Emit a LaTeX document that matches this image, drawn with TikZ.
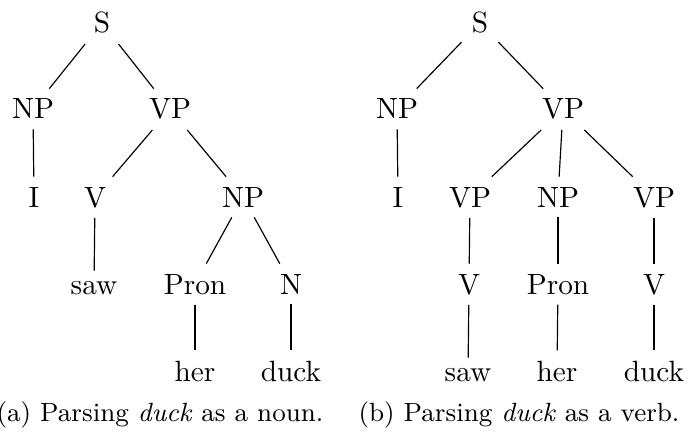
\documentclass[tikz,border=0pt]{standalone}
\usepackage{tikz}
\usetikzlibrary{positioning}

\begin{document}
\begin{tikzpicture}[x=0.012cm,y=-0.012cm,
  lbl/.style={anchor=base},
  subcaption/.style={anchor=base,font=\small}]
\useasboundingbox (0,0) rectangle (689,436);
\node[lbl] (aS) at (102,33) {S};
\node[lbl] (aNP) at (33,119) {NP};
\node[lbl] (aVP) at (170,119) {VP};
\node[lbl] (aI) at (34,207) {I};
\node[lbl] (aV) at (95,207) {V};
\node[lbl] (aNPb) at (243,207) {NP};
\node[lbl] (asaw) at (94,294) {saw};
\node[lbl] (aPron) at (195,294) {Pron};
\node[lbl] (aN) at (291,294) {N};
\node[lbl] (aher) at (195,381) {her};
\node[lbl] (aduck) at (291,381) {duck};
\draw (aS) -- (aNP);
\draw (aS) -- (aVP);
\draw (aNP) -- (aI);
\draw (aVP) -- (aV);
\draw (aVP) -- (aNPb);
\draw (aV) -- (asaw);
\draw (aNPb) -- (aPron);
\draw (aNPb) -- (aN);
\draw (aPron) -- (aher);
\draw (aN) -- (aduck);
\node[subcaption] (acap) at (160,421) {(a) Parsing \emph{duck} as a noun.};
\node[lbl] (bS) at (480,33) {S};
\node[lbl] (bNP) at (397,119) {NP};
\node[lbl] (bVP) at (563,119) {VP};
\node[lbl] (bI) at (398,207) {I};
\node[lbl] (bVPa) at (470,207) {VP};
\node[lbl] (bNPb) at (558,207) {NP};
\node[lbl] (bVPc) at (654,207) {VP};
\node[lbl] (bVa) at (469,294) {V};
\node[lbl] (bPron) at (558,294) {Pron};
\node[lbl] (bVc) at (654,294) {V};
\node[lbl] (bsaw) at (468,381) {saw};
\node[lbl] (bher) at (557,381) {her};
\node[lbl] (bduck) at (654,381) {duck};
\draw (bS) -- (bNP);
\draw (bS) -- (bVP);
\draw (bNP) -- (bI);
\draw (bVP) -- (bVPa);
\draw (bVP) -- (bNPb);
\draw (bVP) -- (bVPc);
\draw (bVPa) -- (bVa);
\draw (bNPb) -- (bPron);
\draw (bVPc) -- (bVc);
\draw (bVa) -- (bsaw);
\draw (bPron) -- (bher);
\draw (bVc) -- (bduck);
\node[subcaption] (bcap) at (519,421) {(b) Parsing \emph{duck} as a verb.};
\end{tikzpicture}
\end{document}
